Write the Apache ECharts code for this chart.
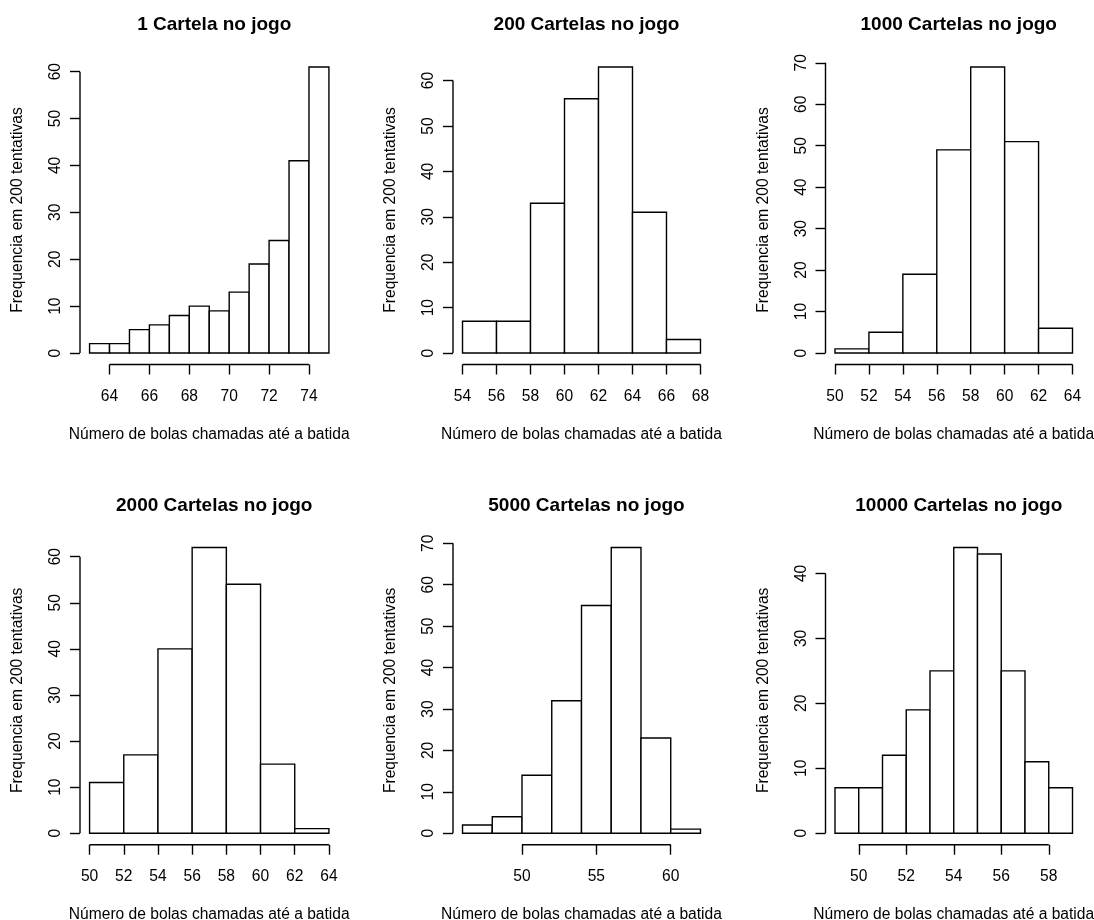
<!DOCTYPE html>
<html>
<head>
<meta charset="utf-8">
<script src="https://cdn.jsdelivr.net/npm/echarts@6/dist/echarts.min.js"></script>
<style>
  html, body { margin: 0; padding: 0; background: #fff; }
  #main { width: 1094px; height: 920px; }
</style>
</head>
<body>
<div id="main"></div>
<script>
var myChart = echarts.init(document.getElementById('main'));

// histogram data, one set per panel (bin breaks + counts)
var titles = ['1 Cartela no jogo', '200 Cartelas no jogo', '1000 Cartelas no jogo',
              '2000 Cartelas no jogo', '5000 Cartelas no jogo', '10000 Cartelas no jogo'];

var breaks1 = [63, 64, 65, 66, 67, 68, 69, 70, 71, 72, 73, 74, 75];
var counts1 = [2, 2, 5, 6, 8, 10, 9, 13, 19, 24, 41, 61];
var breaks200 = [54, 56, 58, 60, 62, 64, 66, 68];
var counts200 = [7, 7, 33, 56, 63, 31, 3];
var breaks1000 = [50, 52, 54, 56, 58, 60, 62, 64];
var counts1000 = [1, 5, 19, 49, 69, 51, 6];
var breaks2000 = [50, 52, 54, 56, 58, 60, 62, 64];
var counts2000 = [11, 17, 40, 62, 54, 15, 1];
var breaks5000 = [46, 48, 50, 52, 54, 56, 58, 60, 62];
var counts5000 = [2, 4, 14, 32, 55, 69, 23, 1];
var breaks10000 = [49, 50, 51, 52, 53, 54, 55, 56, 57, 58, 59];
var counts10000 = [7, 7, 12, 19, 25, 44, 43, 25, 11, 7];

// tick labels
var xTicks1 = [64, 66, 68, 70, 72, 74];
var xTicks200 = [54, 56, 58, 60, 62, 64, 66, 68];
var xTicks1000 = [50, 52, 54, 56, 58, 60, 62, 64];
var xTicks2000 = [50, 52, 54, 56, 58, 60, 62, 64];
var xTicks5000 = [50, 55, 60];
var xTicks10000 = [50, 52, 54, 56, 58];
var yTicks60 = [0, 10, 20, 30, 40, 50, 60];
var yTicks70 = [0, 10, 20, 30, 40, 50, 60, 70];
var yTicks40 = [0, 10, 20, 30, 40];

var xName = 'Número de bolas chamadas até a batida';
var yName = 'Frequencia em 200 tentativas';

var panels = [
  { breaks: breaks1, counts: counts1, xTicks: xTicks1, yTicks: yTicks60 },
  { breaks: breaks200, counts: counts200, xTicks: xTicks200, yTicks: yTicks60 },
  { breaks: breaks1000, counts: counts1000, xTicks: xTicks1000, yTicks: yTicks70 },
  { breaks: breaks2000, counts: counts2000, xTicks: xTicks2000, yTicks: yTicks60 },
  { breaks: breaks5000, counts: counts5000, xTicks: xTicks5000, yTicks: yTicks70 },
  { breaks: breaks10000, counts: counts10000, xTicks: xTicks10000, yTicks: yTicks40 }
];

// plot regions (R style layout, 2 rows x 3 cols)
var cols = [{ left: 80, width: 258.5 }, { left: 453, width: 257 }, { left: 825.5, width: 256.5 }];
var rows = [{ top: 55.5, height: 309 }, { top: 536, height: 308.7 }];

var FONT = '"Liberation Sans", Arial, sans-serif';
var LW = 1.4;

var grid = [], xAxis = [], yAxis = [], series = [], title = [];

panels.forEach(function (p, i) {
  var c = cols[i % 3], r = rows[Math.floor(i / 3)];
  var lo = p.breaks[0], hi = p.breaks[p.breaks.length - 1];
  var ymax = Math.max.apply(null, p.counts);
  // R default axis extension of 4%
  var xmin = lo - 0.04 * (hi - lo), xmax = hi + 0.04 * (hi - lo);
  var ymin = -0.04 * ymax, ytop = 1.04 * ymax;

  grid.push({ left: c.left, top: r.top, width: c.width, height: r.height,
              containLabel: false, outerBoundsMode: 'none' });

  title.push({
    text: titles[i],
    left: c.left + c.width / 2,
    top: r.top - 45,
    textAlign: 'center',
    textStyle: { fontFamily: FONT, fontSize: 19, fontWeight: 'bold', color: '#000' }
  });

  xAxis.push({
    type: 'value', gridIndex: i, min: xmin, max: xmax,
    name: xName, nameLocation: 'middle', nameGap: 62,
    nameTextStyle: { fontFamily: FONT, fontSize: 15.6, color: '#000' },
    axisLine: { show: false, onZero: false },
    splitLine: { show: false },
    axisTick: { show: true, inside: false, customValues: p.xTicks, length: 10, lineStyle: { color: '#000', width: LW } },
    axisLabel: { customValues: p.xTicks, margin: 24, fontFamily: FONT, fontSize: 15.6, color: '#000' }
  });

  yAxis.push({
    type: 'value', gridIndex: i, min: ymin, max: ytop,
    name: yName, nameLocation: 'middle', nameGap: 54,
    nameTextStyle: { fontFamily: FONT, fontSize: 15.6, color: '#000' },
    axisLine: { show: false, onZero: false },
    splitLine: { show: false },
    axisTick: { show: true, inside: false, customValues: p.yTicks, length: 10, lineStyle: { color: '#000', width: LW } },
    axisLabel: { customValues: p.yTicks, rotate: 90, margin: 16, fontFamily: FONT, fontSize: 15.6, color: '#000' }
  });

  var binData = p.counts.map(function (n, k) { return [p.breaks[k], p.breaks[k + 1], n]; });

  series.push({
    type: 'custom', xAxisIndex: i, yAxisIndex: i,
    data: binData,
    encode: { x: [0, 1], y: 2 },
    renderItem: function (params, api) {
      var a = api.coord([api.value(0), 0]);
      var b = api.coord([api.value(1), api.value(2)]);
      return {
        type: 'rect',
        shape: { x: a[0], y: b[1], width: b[0] - a[0], height: a[1] - b[1] },
        style: { fill: '#fff', stroke: '#000', lineWidth: LW }
      };
    }
  });

  // R axis lines run from first to last tick only
  var xt = p.xTicks, yt = p.yTicks;
  series.push({
    type: 'custom', xAxisIndex: i, yAxisIndex: i, clip: false, silent: true,
    data: [[xt[0], xt[xt.length - 1], yt[0], yt[yt.length - 1]]],
    encode: { x: [0, 1], y: [2, 3] },
    renderItem: function (params, api) {
      var x0 = api.coord([api.value(0), ymin]);
      var x1 = api.coord([api.value(1), ymin]);
      var y0 = api.coord([xmin, api.value(2)]);
      var y1 = api.coord([xmin, api.value(3)]);
      var st = { stroke: '#000', lineWidth: LW };
      return {
        type: 'group',
        children: [
          { type: 'line', shape: { x1: x0[0], y1: x0[1], x2: x1[0], y2: x1[1] }, style: st },
          { type: 'line', shape: { x1: y0[0], y1: y0[1], x2: y1[0], y2: y1[1] }, style: st }
        ]
      };
    }
  });
});

var option = {
  backgroundColor: '#fff',
  animation: false,
  title: title,
  grid: grid,
  xAxis: xAxis,
  yAxis: yAxis,
  series: series
};
myChart.setOption(option);
</script>
</body>
</html>
